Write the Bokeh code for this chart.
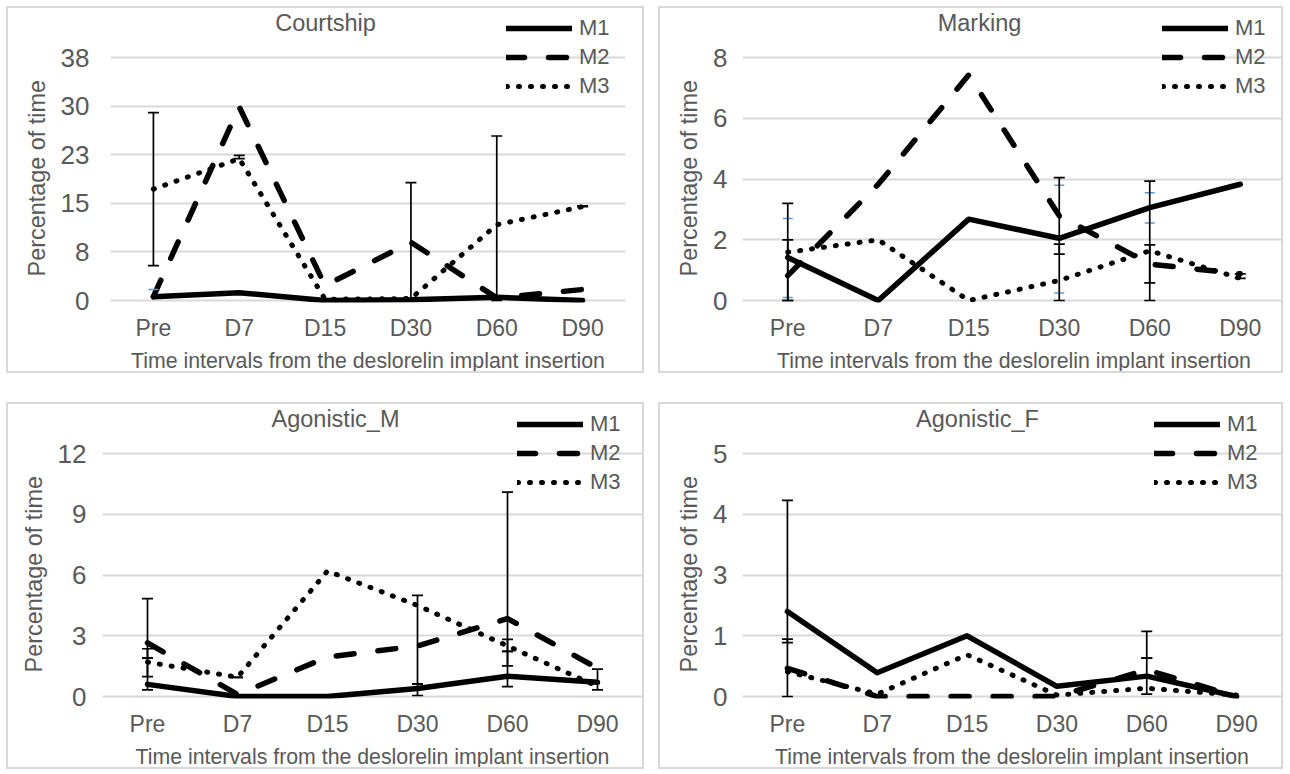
from bokeh.plotting import figure
from bokeh.models import (Range1d, FixedTicker, Whisker, TeeHead, ColumnDataSource,
                          Legend, LegendItem, Label, FactorRange)
from bokeh.layouts import row, column
from bokeh.embed import file_html
from bokeh.resources import INLINE

categories = ["Pre", "D7", "D15", "D30", "D60", "D90"]
series_names = ["M1", "M2", "M3"]

# Courtship
courtship_m1 = [0.6, 1.2, 0.0, 0.1, 0.5, 0.0]
courtship_m2 = [0.6, 29.9, 2.3, 9.0, 0.4, 1.7]
courtship_m3 = [17.2, 21.9, 0.2, 0.3, 11.7, 14.5]
courtship_ticks = [0.0, 7.5, 15.0, 22.5, 30.0, 37.5]
courtship_tick_labels = ["0", "8", "15", "23", "30", "38"]
courtship_err_cat = ["Pre", "D7", "D30", "D60", "D90"]
courtship_err_low = [5.4, 21.9, 0.0, 0.0, 14.5]
courtship_err_high = [29.0, 22.4, 18.2, 25.4, 14.6]
courtship_blue_cat = ["Pre"]
courtship_blue_val = [1.7]

# Marking
marking_m1 = [1.42, 0.0, 2.68, 2.05, 3.06, 3.83]
marking_m2 = [0.82, 3.83, 7.43, 2.79, 1.2, 0.88]
marking_m3 = [1.59, 2.0, 0.0, 0.66, 1.64, 0.73]
marking_ticks = [0.0, 2.0, 4.0, 6.0, 8.0]
marking_tick_labels = ["0", "2", "4", "6", "8"]
marking_err_cat = ["Pre", "Pre", "D30", "D30", "D60", "D60", "D90"]
marking_err_low = [0.0, 0.0, 0.0, 1.53, 0.0, 0.58, 0.73]
marking_err_high = [3.2, 2.0, 4.05, 1.86, 3.93, 1.83, 0.88]
marking_blue_cat = ["Pre", "Pre", "D30", "D30", "D60", "D60"]
marking_blue_val = [2.7, 0.1, 3.8, 0.25, 3.55, 2.55]

# Agonistic_M
agm_m1 = [0.6, 0.0, 0.0, 0.4, 1.0, 0.7]
agm_m2 = [2.65, 0.1, 1.95, 2.5, 3.85, 1.4]
agm_m3 = [1.7, 0.95, 6.2, 4.5, 2.5, 0.5]
agm_ticks = [0.0, 3.0, 6.0, 9.0, 12.0]
agm_tick_labels = ["0", "3", "6", "9", "12"]
agm_err_cat = ["Pre", "Pre", "Pre", "D7", "D30", "D30", "D60", "D60", "D60", "D90"]
agm_err_low = [0.33, 0.98, 1.9, 0.95, 0.05, 0.62, 0.49, 1.51, 2.23, 0.33]
agm_err_high = [4.84, 2.36, 1.9, 0.95, 5.0, 0.62, 10.1, 2.82, 2.23, 1.35]
agm_blue_cat = []
agm_blue_val = []

# Agonistic_F
agf_m1 = [1.75, 0.49, 1.25, 0.21, 0.42, 0.0]
agf_m2 = [0.58, 0.0, 0.0, 0.0, 0.55, 0.0]
agf_m3 = [0.51, 0.05, 0.86, 0.03, 0.17, 0.03]
agf_ticks = [0.0, 1.25, 2.5, 3.75, 5.0]
agf_tick_labels = ["0", "1", "3", "4", "5"]
agf_err_cat = ["Pre", "Pre", "D60", "D60"]
agf_err_low = [0.0, 1.11, 0.05, 0.79]
agf_err_high = [4.04, 1.18, 1.34, 0.79]
agf_blue_cat = []
agf_blue_val = []

y_title = "Percentage of time"
x_title = "Time intervals from the deslorelin implant insertion"

FONT = "Liberation Sans"
GRAY = "#595959"
GRID = "#d9d9d9"

H = 367          # canvas height
GT = 49.5        # canvas y of the top gridline
G0 = 294.0       # canvas y of the zero gridline
FB = 296         # canvas y of the frame bottom
NBSP = "\u00a0"


def make_panel(title, m1, m2, m3, ticks, tick_labels, err_cat, err_low, err_high,
               blue_cat, blue_val, w, fl, fr, title_x, legend_x, ystand):
    top = ticks[-1]
    upp = top / (G0 - GT)
    p = figure(x_range=FactorRange(factors=categories),
               y_range=Range1d(-(FB - G0) * upp, top + GT * upp),
               width=w, height=H, output_backend="svg", toolbar_location=None,
               min_border_left=fl, min_border_right=w - fr, min_border_top=0,
               min_border_bottom=H - FB,
               styles={"border": "2px solid " + GRID})
    p.outline_line_color = None
    p.background_fill_color = "white"
    p.xgrid.grid_line_color = None
    p.ygrid.grid_line_color = GRID
    p.ygrid.grid_line_width = 2
    p.yaxis.ticker = FixedTicker(ticks=ticks)
    p.yaxis.major_label_overrides = dict(zip(ticks, tick_labels))
    for ax in (p.xaxis[0], p.yaxis[0]):
        ax.axis_line_color = None
        ax.major_tick_line_color = None
        ax.minor_tick_line_color = None
        ax.major_tick_in = 0
        ax.major_tick_out = 0
        ax.major_label_text_font = FONT
        ax.major_label_text_color = GRAY
        ax.axis_label_text_font = FONT
        ax.axis_label_text_color = GRAY
        ax.axis_label_text_font_style = "normal"
    p.yaxis.major_label_text_font_size = "26px"
    p.yaxis.major_label_standoff = ystand
    # trailing no-break spaces centre the visible title on the gridded span
    p.yaxis.axis_label = y_title + NBSP * 7
    p.yaxis.axis_label_text_font_size = "23.4px"
    p.yaxis.axis_label_standoff = 8
    p.xaxis.major_label_text_font_size = "23px"
    p.xaxis.major_label_standoff = 12
    p.xaxis.axis_label = x_title
    p.xaxis.axis_label_text_font_size = "21.3px"
    p.xaxis.axis_label_standoff = 5

    r1 = p.line(categories, m1, line_color="black", line_width=5.5,
                line_join="round", line_cap="round")
    r2 = p.line(categories, m2, line_color="black", line_width=5.5,
                line_dash="18 24", line_join="round", line_cap="round")
    r3 = p.line(categories, m3, line_color="black", line_width=5,
                line_dash="1 11", line_join="round", line_cap="round")

    src = ColumnDataSource(dict(x=err_cat, lo=err_low, hi=err_high))
    wh = Whisker(source=src, base="x", lower="lo", upper="hi", dimension="height",
                 line_color="black", line_width=1.7, level="annotation",
                 upper_head=TeeHead(size=11, line_color="black", line_width=1.7),
                 lower_head=TeeHead(size=11, line_color="black", line_width=1.7))
    p.add_layout(wh)
    if blue_cat:
        p.scatter(blue_cat, blue_val, marker="dash", size=10,
                  line_color="#5b9bd5", line_width=1.5)

    item_h, gap, legend_top = 28, 1, 8
    legend_h = 3 * item_h + 2 * gap
    legend = Legend(items=[LegendItem(label=series_names[0], renderers=[r1]),
                           LegendItem(label=series_names[1], renderers=[r2]),
                           LegendItem(label=series_names[2], renderers=[r3])],
                    location=(legend_x, FB - (legend_top + legend_h)),
                    glyph_width=66, glyph_height=item_h, label_height=item_h,
                    spacing=gap, padding=0, margin=0, label_standoff=7,
                    background_fill_alpha=0, border_line_alpha=0,
                    label_text_font=FONT, label_text_font_size="22px",
                    label_text_color=GRAY)
    p.add_layout(legend)

    p.add_layout(Label(x=title_x, y=FB - 16.5, x_units="screen",
                       y_units="screen", text=title, text_align="center",
                       text_baseline="middle", text_font=FONT,
                       text_font_size="23.5px", text_color=GRAY))
    return p


p1 = make_panel("Courtship", courtship_m1, courtship_m2, courtship_m3,
                courtship_ticks, courtship_tick_labels, courtship_err_cat,
                courtship_err_low, courtship_err_high, courtship_blue_cat,
                courtship_blue_val, 638, 102, 617, 215, 396, 21)
p2 = make_panel("Marking", marking_m1, marking_m2, marking_m3,
                marking_ticks, marking_tick_labels, marking_err_cat,
                marking_err_low, marking_err_high, marking_blue_cat,
                marking_blue_val, 625, 82, 625, 237, 420, 15)
p3 = make_panel("Agonistic_M", agm_m1, agm_m2, agm_m3,
                agm_ticks, agm_tick_labels, agm_err_cat,
                agm_err_low, agm_err_high, agm_blue_cat,
                agm_blue_val, 638, 94, 634, 233, 415, 16)
p4 = make_panel("Agonistic_F", agf_m1, agf_m2, agf_m3,
                agf_ticks, agf_tick_labels, agf_err_cat,
                agf_err_low, agf_err_high, agf_blue_cat,
                agf_blue_val, 625, 82, 621, 235, 412, 15)

# the 2px CSS borders are not counted by the layout, so the gaps include them
layout = column(row(p1, p2, spacing=14), row(p3, p4, spacing=14), spacing=29,
                margin=(6, 0, 0, 6))

open("out.html", "w").write(file_html(layout, INLINE))
